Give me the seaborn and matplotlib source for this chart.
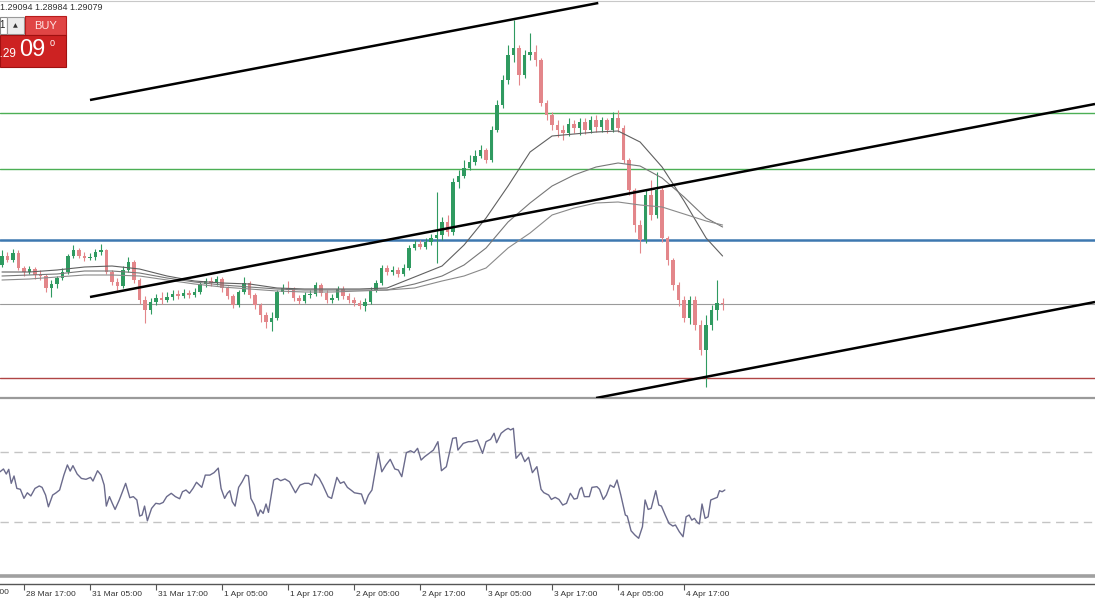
import matplotlib
matplotlib.use("Agg")
import matplotlib.pyplot as plt
import matplotlib.transforms as mtransforms
from matplotlib.patches import Rectangle
import seaborn as sns
import numpy as np
import pandas as pd

# ---- hourly candles (bar 0 = 28 Mar 17:00) ----
first_bar = -4
opens = [1.2947, 1.2956, 1.2952, 1.2959, 1.2944, 1.2940, 1.2943, 1.2937, 1.2936, 1.2924,
         1.2928, 1.2934, 1.2940, 1.2956, 1.2962, 1.2956, 1.2954, 1.2955, 1.2960, 1.2962,
         1.2940, 1.2930, 1.2926, 1.2942, 1.2950, 1.2932, 1.2912, 1.2902, 1.2910, 1.2914,
         1.2912, 1.2915, 1.2918, 1.2916, 1.2919, 1.2917, 1.2920, 1.2928, 1.2931, 1.2929,
         1.2933, 1.2924, 1.2916, 1.2907, 1.2920, 1.2929, 1.2917, 1.2907, 1.2897, 1.2890,
         1.2894, 1.2920, 1.2924, 1.2922, 1.2914, 1.2911, 1.2917, 1.2918, 1.2927, 1.2919,
         1.2912, 1.2914, 1.2923, 1.2916, 1.2912, 1.2909, 1.2906, 1.2910, 1.2922, 1.2929,
         1.2944, 1.2940, 1.2942, 1.2938, 1.2944, 1.2964, 1.2968, 1.2965, 1.2970, 1.2974,
         1.2977, 1.2990, 1.2980, 1.3030, 1.3036, 1.3044, 1.3050, 1.3056, 1.3062, 1.3052,
         1.3082, 1.3107, 1.3132, 1.3157, 1.3164, 1.3137, 1.3157, 1.3160, 1.3152, 1.3109,
         1.3097, 1.3087, 1.3082, 1.3079, 1.3088, 1.3084, 1.3090, 1.3082, 1.3092, 1.3085,
         1.3092, 1.3082, 1.3094, 1.3084, 1.3052, 1.3022, 1.2987, 1.2972, 1.3017, 1.2997,
         1.3022, 1.2974, 1.2952, 1.2927, 1.2912, 1.2894, 1.2912, 1.2887, 1.2862, 1.2887,
         1.2902, 1.2909]
highs = [1.2962, 1.2960, 1.2963, 1.2962, 1.2946, 1.2946, 1.2945, 1.2942, 1.2938, 1.2932,
         1.2936, 1.2944, 1.2958, 1.2967, 1.2964, 1.2960, 1.2959, 1.2963, 1.2968, 1.2963,
         1.2942, 1.2934, 1.2946, 1.2955, 1.2952, 1.2934, 1.2916, 1.2914, 1.2918, 1.2920,
         1.2920, 1.2922, 1.2922, 1.2923, 1.2922, 1.2924, 1.2930, 1.2934, 1.2935, 1.2936,
         1.2935, 1.2926, 1.2918, 1.2922, 1.2935, 1.2931, 1.2919, 1.2909, 1.2900, 1.2900,
         1.2922, 1.2928, 1.2931, 1.2925, 1.2917, 1.2920, 1.2922, 1.2930, 1.2929, 1.2922,
         1.2918, 1.2926, 1.2926, 1.2919, 1.2915, 1.2912, 1.2914, 1.2925, 1.2932, 1.2947,
         1.2947, 1.2946, 1.2945, 1.2948, 1.2967, 1.2972, 1.2972, 1.2974, 1.2978, 1.3020,
         1.2995, 1.2997, 1.3034, 1.3042, 1.3052, 1.3057, 1.3062, 1.3067, 1.3064, 1.3086,
         1.3112, 1.3137, 1.3167, 1.3192, 1.3167, 1.3162, 1.3179, 1.3167, 1.3154, 1.3112,
         1.3100, 1.3092, 1.3087, 1.3094, 1.3092, 1.3094, 1.3094, 1.3096, 1.3097, 1.3095,
         1.3094, 1.3100, 1.3102, 1.3087, 1.3054, 1.3024, 1.2992, 1.3022, 1.3032, 1.3040,
         1.3026, 1.2976, 1.2954, 1.2930, 1.2916, 1.2916, 1.2916, 1.2892, 1.2897, 1.2907,
         1.2932, 1.2914]
lows = [1.2945, 1.2950, 1.2950, 1.2942, 1.2936, 1.2938, 1.2933, 1.2932, 1.2920, 1.2915,
        1.2924, 1.2932, 1.2938, 1.2954, 1.2954, 1.2951, 1.2952, 1.2952, 1.2957, 1.2938,
        1.2927, 1.2922, 1.2924, 1.2940, 1.2929, 1.2908, 1.2889, 1.2898, 1.2907, 1.2908,
        1.2910, 1.2912, 1.2913, 1.2914, 1.2914, 1.2915, 1.2918, 1.2925, 1.2926, 1.2927,
        1.2920, 1.2913, 1.2904, 1.2905, 1.2918, 1.2914, 1.2903, 1.2890, 1.2884, 1.2881,
        1.2892, 1.2918, 1.2919, 1.2911, 1.2908, 1.2909, 1.2914, 1.2916, 1.2916, 1.2909,
        1.2909, 1.2912, 1.2913, 1.2909, 1.2906, 1.2903, 1.2901, 1.2908, 1.2920, 1.2927,
        1.2937, 1.2937, 1.2935, 1.2936, 1.2942, 1.2962, 1.2963, 1.2963, 1.2967, 1.2949,
        1.2972, 1.2976, 1.2977, 1.3024, 1.3034, 1.3042, 1.3047, 1.3054, 1.3049, 1.3050,
        1.3080, 1.3104, 1.3128, 1.3150, 1.3127, 1.3134, 1.3152, 1.3146, 1.3106, 1.3092,
        1.3082, 1.3075, 1.3072, 1.3076, 1.3079, 1.3077, 1.3078, 1.3079, 1.3080, 1.3080,
        1.3079, 1.3080, 1.3080, 1.3049, 1.3017, 1.2980, 1.2959, 1.2969, 1.2992, 1.2994,
        1.2970, 1.2947, 1.2922, 1.2906, 1.2890, 1.2888, 1.2882, 1.2857, 1.2825, 1.2882,
        1.2892, 1.2902]
closes = [1.2956, 1.2952, 1.2959, 1.2944, 1.2940, 1.2943, 1.2937, 1.2936, 1.2924, 1.2928,
          1.2934, 1.2940, 1.2956, 1.2962, 1.2956, 1.2954, 1.2955, 1.2960, 1.2962, 1.2940,
          1.2930, 1.2926, 1.2942, 1.2950, 1.2932, 1.2912, 1.2902, 1.2910, 1.2914, 1.2912,
          1.2915, 1.2918, 1.2916, 1.2919, 1.2917, 1.2920, 1.2928, 1.2931, 1.2929, 1.2933,
          1.2924, 1.2916, 1.2907, 1.2920, 1.2929, 1.2917, 1.2907, 1.2897, 1.2890, 1.2894,
          1.2920, 1.2924, 1.2922, 1.2914, 1.2911, 1.2917, 1.2918, 1.2927, 1.2919, 1.2912,
          1.2914, 1.2923, 1.2916, 1.2912, 1.2909, 1.2906, 1.2910, 1.2922, 1.2929, 1.2944,
          1.2940, 1.2942, 1.2938, 1.2944, 1.2964, 1.2968, 1.2965, 1.2970, 1.2974, 1.2977,
          1.2990, 1.2980, 1.3030, 1.3036, 1.3044, 1.3050, 1.3056, 1.3062, 1.3052, 1.3082,
          1.3107, 1.3132, 1.3157, 1.3164, 1.3137, 1.3157, 1.3160, 1.3152, 1.3109, 1.3097,
          1.3087, 1.3082, 1.3079, 1.3088, 1.3084, 1.3090, 1.3082, 1.3092, 1.3085, 1.3092,
          1.3082, 1.3094, 1.3084, 1.3052, 1.3022, 1.2987, 1.2972, 1.3017, 1.2997, 1.3022,
          1.2974, 1.2952, 1.2927, 1.2912, 1.2894, 1.2912, 1.2887, 1.2862, 1.2887, 1.2902,
          1.2909, 1.2908]

# ---- moving averages ----
ma_bars = [-4, 1, 6, 11, 16, 21, 26, 31, 36, 41, 46, 51, 56, 61, 66,
           71, 76, 80, 84, 88, 92, 96, 100, 104, 108, 112, 116, 120, 124, 127]
ma_fast = [1.2940, 1.2940, 1.2942, 1.2945, 1.2946, 1.2943, 1.2936, 1.2931, 1.2929, 1.2928,
           1.2924, 1.2923, 1.2923, 1.2923, 1.2924, 1.2935, 1.2946, 1.2967, 1.2994, 1.3026,
           1.3060, 1.3076, 1.3078, 1.3080, 1.3081, 1.3070, 1.3045, 1.3011, 1.2974, 1.2956]
ma_mid = [1.2936, 1.2937, 1.2938, 1.2941, 1.2941, 1.2939, 1.2934, 1.2930, 1.2927, 1.2925,
          1.2923, 1.2922, 1.2922, 1.2922, 1.2922, 1.2928, 1.2936, 1.2947, 1.2964, 1.2990,
          1.3009, 1.3026, 1.3037, 1.3045, 1.3049, 1.3046, 1.3034, 1.3015, 1.2994, 1.2985]
ma_slow = [1.2932, 1.2933, 1.2935, 1.2937, 1.2937, 1.2936, 1.2932, 1.2928, 1.2925, 1.2923,
           1.2921, 1.2920, 1.2920, 1.2921, 1.2922, 1.2924, 1.2931, 1.2936, 1.2944, 1.2964,
           1.2979, 1.2997, 1.3004, 1.3009, 1.3010, 1.3007, 1.3005, 1.2998, 1.2991, 1.2987]

# ---- horizontal levels and channel lines ----
level_green = [1.3099, 1.3043]
level_blue = 1.2972
level_bid = 1.2908
level_red = 1.2834
channel_upper = ([12, 104.4], [1.3112, 1.3209])
channel_mid = ([12, 194.7], [1.2915, 1.3108])
channel_lower = ([104, 194.7], [1.2814, 1.2910])

# ---- RSI ----
rsi_pos = [-4.36, -3.73, -3.22, -2.77, -2.32, -1.81, -1.3, -0.66, 0.0, 0.61,
           1.25, 2.0, 2.78, 3.29, 3.93, 4.44, 5.21, 5.84, 6.48, 7.25,
           7.89, 8.4, 8.9, 9.67, 10.44, 11.27, 12.1, 12.54, 13.37, 14.01,
           14.58, 14.97, 15.54, 16.05, 16.56, 17.33, 18.48, 19.24, 19.88, 20.52,
           21.03, 21.47, 21.92, 22.43, 23.2, 23.96, 24.66, 25.3, 25.94, 26.77,
           27.53, 28.3, 28.81, 29.45, 30.08, 30.72, 31.36, 32.32, 32.96, 33.79,
           34.55, 35.32, 35.83, 36.47, 36.98, 37.42, 37.87, 38.38, 39.02, 39.66,
           40.29, 40.8, 41.25, 41.89, 42.53, 42.97, 43.48, 44.0, 44.44, 45.4,
           46.03, 46.67, 47.44, 48.27, 49.35, 50.18, 51.01, 51.78, 52.29, 52.92,
           53.69, 54.33, 55.28, 55.92, 56.88, 57.52, 58.16, 58.79, 59.43, 60.07,
           61.35, 61.98, 62.62, 63.26, 64.41, 65.05, 65.81, 66.58, 67.41, 68.05,
           68.68, 69.51, 70.28, 70.92, 71.55, 72.19, 72.83, 73.79, 74.43, 75.25,
           75.89, 76.78, 77.93, 78.57, 78.89, 79.85, 80.8, 81.44, 82.4, 83.36,
           83.99, 84.82, 85.46, 85.91, 86.74, 87.5, 88.01, 88.46, 88.97, 89.45,
           90.35, 91.04, 91.73, 92.42, 93.24, 94.0, 94.49, 95.38, 95.87, 96.56,
           97.25, 97.94, 98.63, 99.32, 100.01, 100.56, 101.04, 101.39, 101.87, 102.77,
           103.25, 104.15, 104.63, 105.32, 105.87, 106.56, 107.25, 107.81, 108.5, 109.32,
           109.67, 110.36, 111.05, 111.74, 112.43, 112.91, 113.47, 114.02, 114.85, 115.4,
           115.88, 116.57, 117.26, 117.95, 118.43, 119.12, 119.81, 120.37, 120.92, 121.4,
           121.88, 122.44, 122.78, 123.26, 123.82, 124.37, 124.85, 125.54, 126.03, 126.44,
           126.92, 127.41]
rsi_val = [58.7, 60.3, 57.4, 60.1, 52.1, 56.3, 49.2, 48.7, 43.5, 46.7,
           44.9, 49.2, 50.6, 49.8, 45.4, 38.7, 45.4, 46.7, 48.3, 56.8,
           62.6, 59.1, 62.2, 57.4, 54.9, 54.4, 55.5, 53.4, 59.3, 56.8,
           51.1, 39.1, 44.5, 40.7, 37.2, 42.6, 52.1, 43.9, 44.5, 42.6,
           33.4, 34.0, 39.1, 30.7, 37.8, 40.7, 40.3, 41.2, 44.5, 46.4,
           44.5, 43.3, 47.3, 48.3, 46.4, 49.2, 52.7, 49.8, 56.8, 56.8,
           58.2, 60.8, 49.2, 43.5, 46.4, 47.9, 41.6, 39.1, 49.8, 53.0,
           56.8, 56.3, 43.5, 39.7, 33.4, 36.9, 34.9, 40.3, 35.5, 54.0,
           54.9, 53.6, 54.6, 53.0, 46.7, 51.1, 52.1, 52.1, 51.1, 57.4,
           54.9, 51.1, 44.5, 43.5, 55.5, 52.1, 53.0, 49.8, 48.3, 46.7,
           46.0, 40.3, 45.4, 48.3, 69.2, 58.7, 62.6, 65.8, 60.3, 59.7,
           55.9, 69.6, 70.7, 69.6, 72.1, 65.4, 67.3, 69.6, 71.1, 75.9,
           59.3, 61.6, 77.8, 78.2, 71.1, 74.9, 75.9, 75.9, 76.9, 69.2,
           75.9, 77.2, 80.7, 75.3, 80.7, 82.6, 83.5, 82.6, 83.5, 66.4,
           69.6, 64.5, 67.0, 58.2, 61.6, 48.7, 46.8, 45.4, 42.9, 44.1,
           42.9, 39.7, 40.7, 46.4, 43.1, 43.5, 48.7, 49.8, 44.5, 44.5,
           49.8, 50.2, 48.7, 42.9, 45.4, 51.1, 49.8, 54.0, 45.4, 34.0,
           33.4, 25.0, 22.6, 20.7, 27.3, 42.6, 37.2, 37.8, 47.9, 39.7,
           39.1, 34.0, 29.2, 27.7, 28.3, 24.5, 21.6, 33.0, 34.0, 31.1,
           32.1, 29.6, 28.9, 40.3, 32.1, 33.0, 42.6, 43.5, 44.1, 47.9,
           47.3, 48.3]
rsi_levels = [70, 30]

tick_bars = [0, 12, 24, 36, 48, 60, 72, 84, 96, 108, 120]
tick_labels = ["28 Mar 17:00", "31 Mar 05:00", "31 Mar 17:00", "1 Apr 05:00", "1 Apr 17:00",
               "2 Apr 05:00", "2 Apr 17:00", "3 Apr 05:00", "3 Apr 17:00", "4 Apr 05:00",
               "4 Apr 17:00"]
header_text = "1.29094 1.28984 1.29079"

df = pd.DataFrame({"open": opens, "high": highs, "low": lows, "close": closes})
df["bar"] = np.arange(first_bar, first_bar + len(df))

sns.set_theme(style="white")
plt.rcParams["font.family"] = ["Liberation Sans", "DejaVu Sans"]

GREEN = "#2f9a60"
RED = "#e3868a"

fig = plt.figure(figsize=(10.95, 6.0), dpi=100)
ax = fig.add_axes([0, 1 - 398 / 600, 1, 397 / 600])
axr = fig.add_axes([0, 1 - 584 / 600, 1, 184 / 600], sharex=ax)

# levels
for lv in level_green:
    ax.axhline(lv, color="#4caf55", lw=1.0, zorder=1)
ax.axhline(level_blue, color="#3d78b0", lw=1.8, zorder=1)
ax.axhline(level_bid, color="#9a9a9a", lw=0.8, zorder=1)
ax.axhline(level_red, color="#b04545", lw=1.0, zorder=1)

# candles
up = df["close"] >= df["open"]
cols = np.where(up, GREEN, RED)
ax.vlines(df["bar"], df["low"], df["high"], colors=cols, lw=0.8, zorder=3)
ax.bar(df["bar"], (df["close"] - df["open"]).abs(),
       bottom=df[["open", "close"]].min(axis=1), width=0.68,
       color=cols, linewidth=0, zorder=4)

# moving averages
sns.lineplot(x=ma_bars, y=ma_fast, ax=ax, color="#606060", lw=0.8, zorder=5)
sns.lineplot(x=ma_bars, y=ma_mid, ax=ax, color="#777777", lw=0.8, zorder=5)
sns.lineplot(x=ma_bars, y=ma_slow, ax=ax, color="#8a8a8a", lw=0.8, zorder=5)

# channel
for xs, ys in (channel_upper, channel_mid, channel_lower):
    ax.plot(xs, ys, color="black", lw=1.8, zorder=6, solid_capstyle="butt")

ax.set_xlim(-4.36, 194.7)
ax.set_ylim(1.2814, 1.3211)
ax.set_xlabel("")
ax.set_ylabel("")
ax.tick_params(left=False, bottom=False, labelleft=False, labelbottom=False)
for s in ("left", "right"):
    ax.spines[s].set_visible(False)
ax.spines["top"].set_color("#c8c8c8")
ax.spines["top"].set_linewidth(0.8)
ax.spines["bottom"].set_color("#9a9a9a")
ax.spines["bottom"].set_linewidth(1.6)

# RSI panel
for lv in rsi_levels:
    axr.axhline(lv, color="#c4c4c4", lw=1.0, ls=(0, (6, 4)), zorder=1)
sns.lineplot(x=rsi_pos, y=rsi_val, ax=axr, color="#6b6b8c", lw=1.0, zorder=3)
axr.axhline(-0.9, color="#a0a0a0", lw=2.6, zorder=2)
axr.set_ylim(-5.4, 99.7)
axr.set_xlim(-4.36, 194.7)
axr.set_xlabel("")
axr.set_ylabel("")
axr.set_yticks([])
for s in ("left", "right", "top"):
    axr.spines[s].set_visible(False)
axr.spines["bottom"].set_color("#555555")
axr.spines["bottom"].set_linewidth(1.0)
axr.set_xticks(tick_bars)
axr.set_xticklabels(tick_labels)
axr.tick_params(axis="x", bottom=True, direction="out", length=4, width=0.8,
                color="#555555", labelsize=6, labelcolor="#333333", pad=1)
shift = mtransforms.ScaledTranslation(2 / 100, 0, fig.dpi_scale_trans)
for lbl in axr.get_xticklabels():
    lbl.set_ha("left")
    lbl.set_transform(lbl.get_transform() + shift)

# terminal overlay (pixel coordinates)
ov = fig.add_axes([0, 0, 1, 1], zorder=10)
ov.set_xlim(0, 1095)
ov.set_ylim(600, 0)
ov.axis("off")
ov.patch.set_visible(False)
ov.text(0, 7, header_text, fontsize=6.5, color="#333333", va="center", ha="left")
ov.text(9, 592, "28 Mar 05:00", fontsize=6, color="#333333", va="center", ha="right")
ov.add_patch(Rectangle((0, 17), 7, 17, fc="white", ec="#8a8a8a", lw=0.8))
ov.text(5, 25.5, "1", fontsize=7, color="#222222", va="center", ha="right")
ov.add_patch(Rectangle((7, 17), 17, 17, fc="#ececec", ec="#9a9a9a", lw=0.8))
ov.text(15.5, 25.5, "\u25b2", fontsize=4.5, color="#333333", va="center", ha="center",
        family=["DejaVu Sans"])
ov.add_patch(Rectangle((25, 16), 41, 19, fc="#e04545", ec="#b81c1c", lw=0.8))
ov.text(45.5, 26, "BUY", fontsize=8, color="#ffe4e4", va="center", ha="center")
ov.add_patch(Rectangle((0, 35), 66, 32, fc="#cd2222", ec="#a01010", lw=0.8))
ov.text(16, 54, "1.29", fontsize=8.5, color="white", va="center", ha="right")
ov.text(32, 50, "09", fontsize=17, color="white", va="center", ha="center")
ov.text(52, 43, "0", fontsize=6.5, color="white", va="center", ha="center")

fig.savefig("out.png", dpi=100, facecolor="white")
